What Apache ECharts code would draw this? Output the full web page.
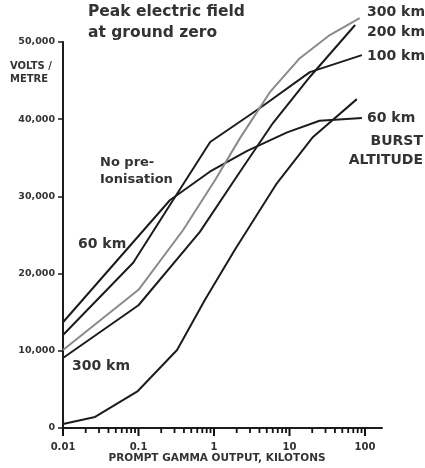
<!DOCTYPE html>
<html><head><meta charset="utf-8">
<script src="https://cdn.jsdelivr.net/npm/echarts@6.0.0/dist/echarts.min.js"></script>
<style>html,body{margin:0;padding:0;background:#fff}#c{width:425px;height:468px}</style>
</head><body><div id="c"></div>
<script>
// Peak electric field (V/m) vs prompt gamma output (kt)
const km60 = [[0.01,13700],[0.26,29500],[0.88,33200],[2.75,35900],[9.3,38300],[25,39800],[91,40150]];
const km100 = [[0.01,12050],[0.085,21400],[0.286,29500],[0.89,37050],[4.06,41450],[18.6,46100],[91,48300]];
const km200 = [[0.01,9070],[0.1,15900],[0.65,25400],[2.21,33200],[6.04,39500],[18.7,45500],[74,52200]];
const km300 = [[0.01,10100],[0.1,17900],[0.39,25650],[1.03,32100],[2.21,37550],[5.5,43500],[13.7,47900],[34.2,50900],[85,53100]];
const noPreion = [[0.01,520],[0.0266,1430],[0.098,4790],[0.324,10100],[0.76,16600],[1.89,23100],[6.8,31700],[20.5,37700],[78,42600]];

const xMajorTicks = [0.01, 0.1, 1, 10, 100];
const xTickLabels = ['0.01', '0.1', '1', '10', '100'];
const xMinorTicks = [0.02,0.03,0.04,0.05,0.06,0.07,0.08,0.09,0.2,0.3,0.4,0.5,0.6,0.7,0.8,0.9,2,3,4,5,6,7,8,9,20,30,40,50,60,70,80,90];
const yTickLabels = ['0', '10,000', '20,000', '30,000', '40,000', '50,000'];

const FONT = 'DejaVu Sans';
const TXT = '#333';
const BLACK = '#1c1c1c';
const GREY = '#8a8a8a';

function lineSeries(name, data, color) {
  return {
    name, type: 'line', data, showSymbol: false, clip: false,
    lineStyle: { color, width: 2 }, itemStyle: { color }, smooth: false
  };
}
function tickSeries(values, len, width) {
  return {
    type: 'custom',
    data: values.map(v => [v, 0]),
    renderItem: function (params, api) {
      const p = api.coord([api.value(0), api.value(1)]);
      return {
        type: 'line',
        shape: { x1: p[0], y1: p[1], x2: p[0], y2: p[1] + len },
        style: { stroke: '#111', lineWidth: width }
      };
    }
  };
}
function txt(text, left, y, size, align) {
  return {
    type: 'text', x: left, y: y, silent: true,
    style: { text, font: 'bold ' + size + 'px "' + FONT + '"', fill: TXT,
             align: align || 'left', verticalAlign: 'middle' }
  };
}

const chart = echarts.init(document.getElementById('c'));
chart.setOption({
  animation: false,
  title: {
    text: 'Peak electric field\nat ground zero', left: 88, top: 1, padding: 0,
    textStyle: { fontFamily: FONT, fontWeight: 'bold', fontSize: 15.5, lineHeight: 21, color: TXT }
  },
  grid: { left: 63, right: 43, top: 42, bottom: 40 },
  xAxis: {
    type: 'log', min: 0.01, max: 168,
    axisLine: { show: true, lineStyle: { color: BLACK, width: 2 } },
    axisTick: { show: false },
    splitLine: { show: false },
    axisLabel: {
      margin: 14, fontFamily: FONT, fontWeight: 'bold', fontSize: 10, color: TXT,
      formatter: function (v) {
        for (let i = 0; i < xMajorTicks.length; i++) {
          if (Math.abs(Math.log10(v) - Math.log10(xMajorTicks[i])) < 1e-6) return xTickLabels[i];
        }
        return '';
      }
    }
  },
  yAxis: {
    type: 'value', min: 0, max: 50000, interval: 10000,
    axisLine: { show: true, lineStyle: { color: BLACK, width: 2 } },
    axisTick: { show: true, length: 5, lineStyle: { color: BLACK, width: 1.5 } },
    splitLine: { show: false },
    axisLabel: {
      margin: 8, fontFamily: FONT, fontWeight: 'bold', fontSize: 9.5, color: TXT,
      formatter: function (v) { return yTickLabels[Math.round(v / 10000)]; }
    }
  },
  series: [
    tickSeries(xMajorTicks, 8, 2),
    tickSeries(xMinorTicks, 5, 1.8),
    lineSeries('No pre-ionisation', noPreion, BLACK),
    lineSeries('60 km', km60, BLACK),
    lineSeries('100 km', km100, BLACK),
    lineSeries('200 km', km200, BLACK),
    lineSeries('300 km', km300, GREY)
  ],
  graphic: [
    { type: 'text', x: 10, y: 60, silent: true,
      style: { text: 'VOLTS /\nMETRE', font: 'bold 10px "' + FONT + '"', fill: TXT, lineHeight: 13 } },
    txt('No pre-', 100, 163, 13),
    txt('Ionisation', 100, 180, 13),
    txt('60 km', 78, 244, 14),
    txt('300 km', 72, 366, 14),
    txt('300 km', 367, 12, 14),
    txt('200 km', 367, 32, 14),
    txt('100 km', 367, 56, 14),
    txt('60 km', 367, 118, 14),
    txt('BURST', 423, 141, 14, 'right'),
    txt('ALTITUDE', 423, 160, 14, 'right'),
    txt('PROMPT GAMMA OUTPUT, KILOTONS', 217, 458, 10.5, 'center')
  ]
});
</script>
</body></html>
